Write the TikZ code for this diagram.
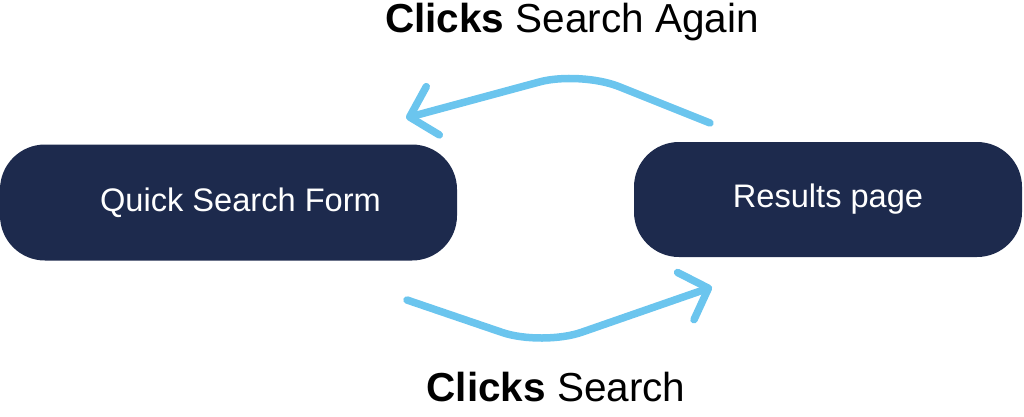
\documentclass[tikz,border=0pt]{standalone}
\usepackage{fontspec}
\setmainfont{Liberation Sans}
\usetikzlibrary{arrows.meta}
\definecolor{navy}{HTML}{1D2A4D}
\definecolor{skyblue}{HTML}{6BC5EE}
\tikzset{
  pill/.style={fill=navy, rounded corners=45pt, text=white, font=\fontsize{32.6}{38}\selectfont, inner sep=0pt},
  flow/.style={draw=skyblue, line width=7.5pt, line cap=round, line join=round, rounded corners=42pt,
    -{Straight Barb[length=24pt,width=50pt,line cap=round,line join=round]}},
  lbl/.style={font=\fontsize{40.5}{46}\selectfont, text=black, inner sep=0pt}
}
\begin{document}
\begin{tikzpicture}[x=1pt,y=-1pt]
\useasboundingbox (0,0) rectangle (1024,416);
\node[pill, minimum width=457pt, minimum height=116pt] (form) at (228.5,202.5) {\hspace*{24pt}Quick Search Form};
\node[pill, minimum width=388pt, minimum height=115pt] (results) at (828,199.5) {Results page};
\node[lbl] (again) at (572,22) {\textbf{Clicks} Search Again};
\node[lbl] (search) at (556,387) {\textbf{Clicks} Search};
\coordinate (a1) at (710,123);
\coordinate (a2) at (580,71);
\coordinate (a3) at (406,118);
\coordinate (b1) at (407,300);
\coordinate (b2) at (542,346);
\coordinate (b3) at (712,287);
\draw[flow] (a1) -- (a2) -- (a3);
\draw[flow] (b1) -- (b2) -- (b3);
\end{tikzpicture}
\end{document}
